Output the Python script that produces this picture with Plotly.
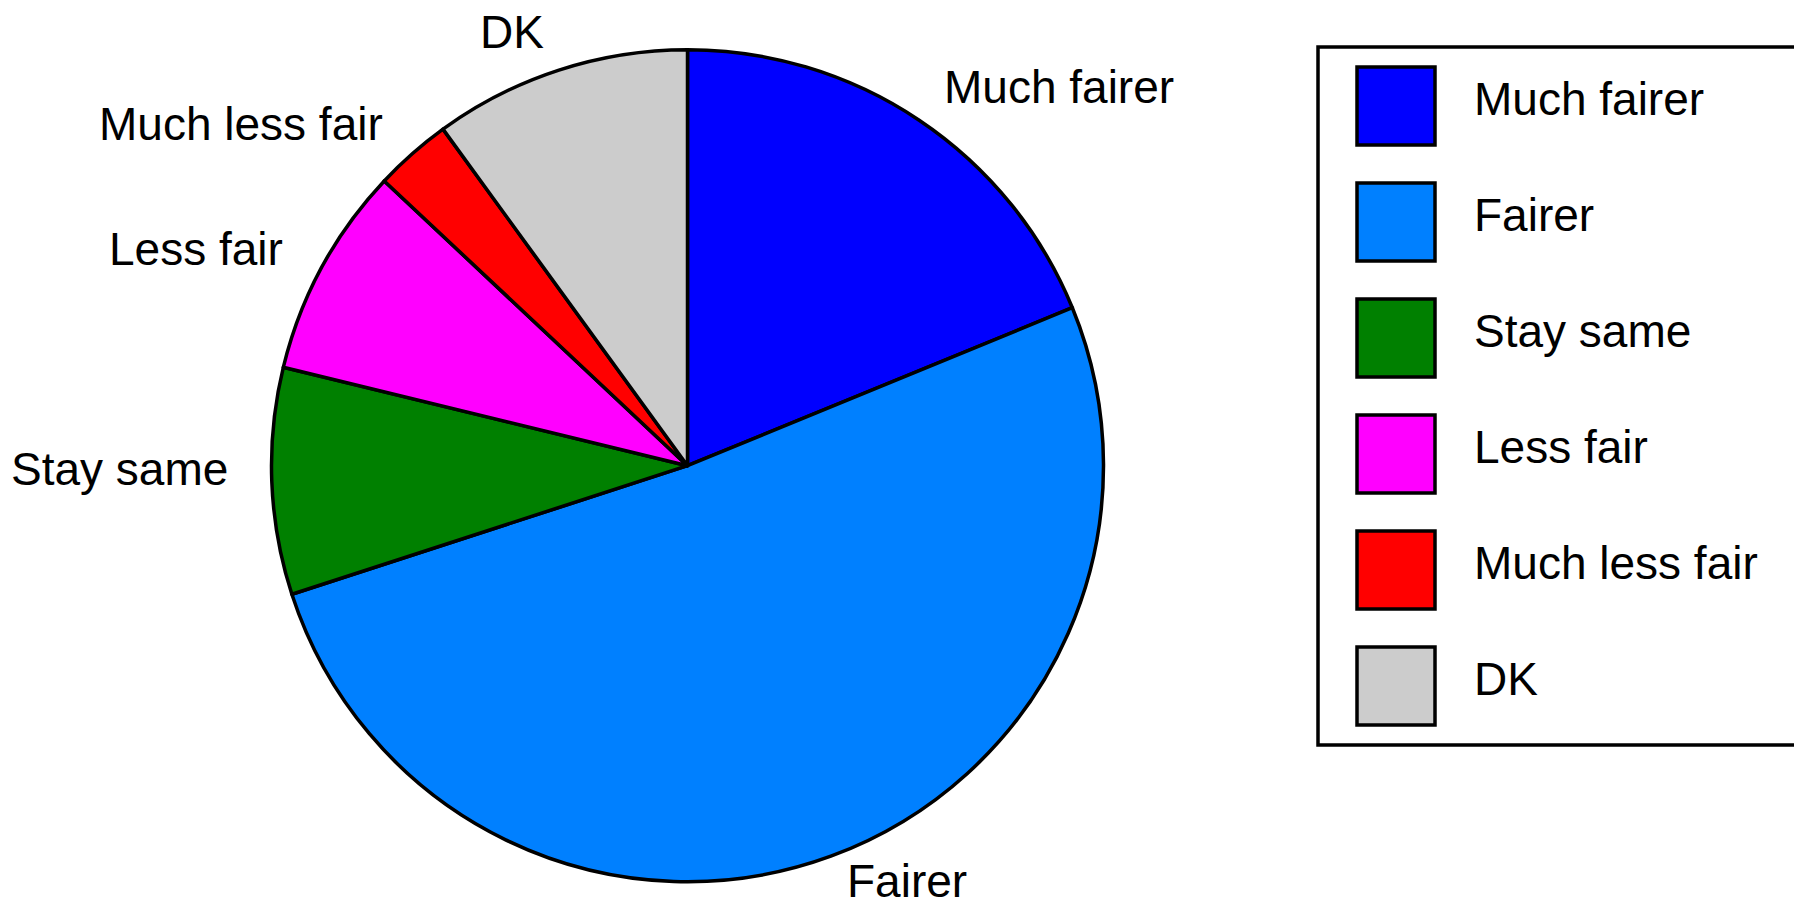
import math
import plotly.graph_objects as go

# ---- data ----
categories = ["Much fairer", "Fairer", "Stay same", "Less fair", "Much less fair", "DK"]
values = [18.8, 51.2, 8.8, 8.2, 3.0, 10.0]
colors = ["#0000FF", "#0080FF", "#008000", "#FF00FF", "#FF0000", "#CCCCCC"]

# ---- layout constants (target screen pixels) ----
W, H = 1802, 902
OFF = 8  # default page body margin shifts the figure by this many pixels
CX, CY, R = 687.5, 465.7, 416.0
FONT = "Liberation Sans, Arial, Helvetica, sans-serif"
FS = 46
LW = 3.5


def fx(px):
    return (px - OFF) / W


def fy(py):
    return 1 - (py - OFF) / H


fig = go.Figure(
    go.Pie(
        labels=categories,
        values=values,
        sort=False,
        direction="clockwise",
        rotation=0,
        marker=dict(colors=colors, line=dict(color="black", width=LW)),
        textinfo="none",
        hoverinfo="label+percent",
        showlegend=False,
        domain=dict(x=[fx(CX - R), fx(CX + R)],
                    y=[fy(CY + R), fy(CY - R)]),
    )
)

annotations = []
shapes = []

# slice labels placed outside the pie at the mid-angle of each slice
total = sum(values)
cum = 0.0
for lab, v in zip(categories, values):
    mid = (cum + v / 2) / total * 2 * math.pi
    cum += v
    s, c = math.sin(mid), math.cos(mid)
    px = CX + 1.1 * R * s
    py = CY - 1.1 * R * c
    # labels on the lower half sit a little higher than their anchor
    py += 1.2 if c >= 0 else -14
    annotations.append(dict(
        x=fx(px), y=fy(py), xref="paper", yref="paper",
        text=lab, showarrow=False,
        xanchor="left" if s >= 0 else "right", yanchor="middle",
        font=dict(family=FONT, size=FS, color="black"),
    ))

# custom legend
LX0, LX1, LY0, LY1 = 1318, 1796, 47, 745
shapes.append(dict(type="rect", xref="paper", yref="paper",
                   x0=fx(LX0), x1=fx(LX1), y0=fy(LY1), y1=fy(LY0),
                   line=dict(color="black", width=LW), fillcolor="white", layer="below"))
SW_X0, SW = 1357, 78
ROW0, STEP = 67, 116
for i, (lab, col) in enumerate(zip(categories, colors)):
    top = ROW0 + STEP * i
    shapes.append(dict(type="rect", xref="paper", yref="paper",
                       x0=fx(SW_X0), x1=fx(SW_X0 + SW),
                       y0=fy(top + SW), y1=fy(top),
                       line=dict(color="black", width=LW), fillcolor=col))
    annotations.append(dict(
        x=fx(1472), y=fy(top + SW / 2 - 7), xref="paper", yref="paper",
        text=lab, showarrow=False, xanchor="left", yanchor="middle",
        font=dict(family=FONT, size=FS, color="black"),
    ))

fig.update_layout(
    width=W, height=H,
    margin=dict(l=0, r=0, t=0, b=0),
    paper_bgcolor="white", plot_bgcolor="white",
    annotations=annotations, shapes=shapes,
    font=dict(family=FONT, size=FS, color="black"),
    showlegend=False,
)

fig.write_html("out.html")
